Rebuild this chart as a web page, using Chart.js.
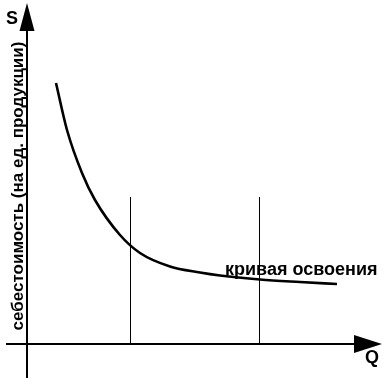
<!DOCTYPE html>
<html><head><meta charset="utf-8">
<script src="https://cdn.jsdelivr.net/npm/chart.js@4"></script>
<style>html,body{margin:0;padding:0;background:#fff;overflow:hidden}</style>
</head><body>
<canvas id="c" width="388" height="386" style="display:block"></canvas>
<script>
// learning curve: cost per unit S vs quantity Q
const curveQ = [29, 40, 55, 68, 93, 113, 143, 173, 193, 233, 273, 310];
const curveS = [261, 214, 171, 144, 109, 91, 77.5, 71.5, 68.5, 64.5, 62, 60];
const guideQ = [103.5, 232.5];
const guideTop = 147;
const xAxisRange = [-21, 355];
const yAxisRange = [-34, 341];
const curveLabelAt = [198, 69];
const yTitleAt = [-4, 158];
const texts = { yName: 'S', xName: 'Q', curve: 'кривая освоения', yTitle: 'себестоимость (на ед. продукции)' };

const FONT = '"Liberation Sans", Arial, sans-serif';

const datasets = [];
datasets.push({ data: curveQ.map((q, i) => ({ x: q, y: curveS[i] })), borderColor: '#000', borderWidth: 2.6, tension: 0.4, cubicInterpolationMode: 'monotone' });
guideQ.forEach(q => datasets.push({ data: [{ x: q, y: 0 }, { x: q, y: guideTop }], borderColor: '#000', borderWidth: 1 }));
datasets.push({ data: [{ x: xAxisRange[0], y: 0 }, { x: xAxisRange[1] - 20, y: 0 }], borderColor: '#000', borderWidth: 2 });
datasets.push({ data: [{ x: 0, y: yAxisRange[0] }, { x: 0, y: yAxisRange[1] - 20 }], borderColor: '#000', borderWidth: 2 });

const decor = {
  id: 'decor',
  afterDatasetsDraw(chart) {
    const { ctx, scales: { x, y } } = chart;
    ctx.save();
    ctx.fillStyle = '#000';
    // y arrow
    const yx = x.getPixelForValue(0), yt = y.getPixelForValue(yAxisRange[1]);
    ctx.beginPath(); ctx.moveTo(yx, yt); ctx.lineTo(yx - 7.5, yt + 28); ctx.lineTo(yx + 7.5, yt + 28); ctx.closePath(); ctx.fill();
    // x arrow
    const xt = x.getPixelForValue(xAxisRange[1]), xy = y.getPixelForValue(0);
    ctx.beginPath(); ctx.moveTo(xt, xy); ctx.lineTo(xt - 28, xy - 9); ctx.lineTo(xt - 28, xy + 9); ctx.closePath(); ctx.fill();
    // axis names
    ctx.font = 'bold 18px ' + FONT;
    ctx.textAlign = 'center'; ctx.textBaseline = 'alphabetic';
    ctx.fillText(texts.yName, yx - 15, yt + 21);
    ctx.fillText(texts.xName, xt - 10, xy + 19);
    // curve label
    ctx.font = 'bold 18px ' + FONT;
    ctx.textAlign = 'left';
    ctx.fillText(texts.curve, x.getPixelForValue(curveLabelAt[0]), y.getPixelForValue(curveLabelAt[1]));
    // y title
    ctx.font = 'bold 17px ' + FONT;
    ctx.translate(x.getPixelForValue(yTitleAt[0]), y.getPixelForValue(yTitleAt[1]));
    ctx.rotate(-Math.PI / 2);
    ctx.textAlign = 'center';
    ctx.fillText(texts.yTitle, 0, 0);
    ctx.restore();
  }
};

new Chart(document.getElementById('c'), {
  type: 'scatter',
  data: { datasets: datasets.map(d => Object.assign({ showLine: true, pointRadius: 0, fill: false, clip: false }, d)) },
  options: {
    responsive: false, animation: false, devicePixelRatio: 1,
    layout: { padding: 0 },
    plugins: { legend: { display: false }, tooltip: { enabled: false } },
    scales: {
      x: { type: 'linear', min: -27, max: 361, display: false },
      y: { type: 'linear', min: -42, max: 344, display: false }
    }
  },
  plugins: [decor]
});
</script>
</body></html>
